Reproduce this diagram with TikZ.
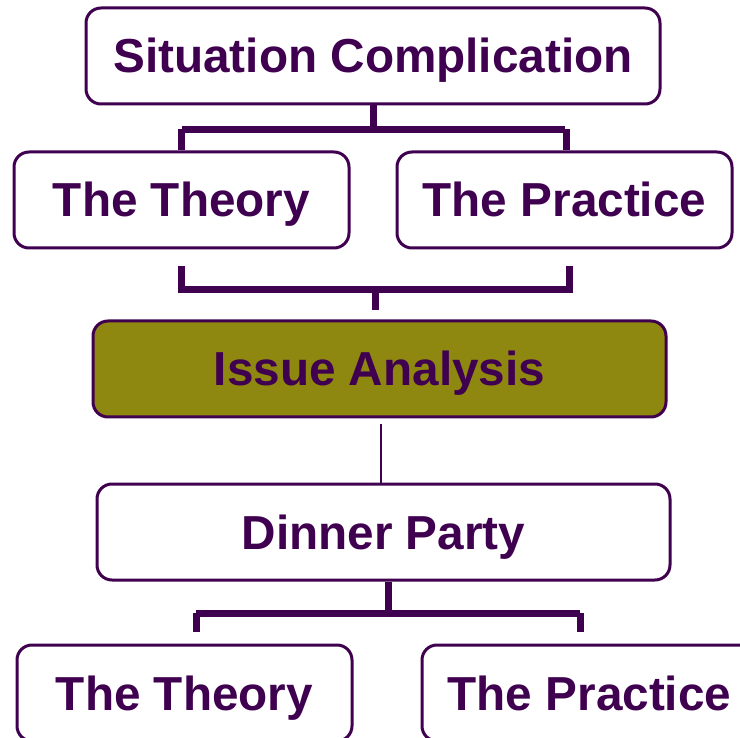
\documentclass[tikz,border=0pt]{standalone}
\usepackage{fontspec}
\setmainfont{Liberation Sans}
\usetikzlibrary{calc}
\definecolor{ink}{HTML}{400050}
\definecolor{olive}{HTML}{8F8810}
\begin{document}
\begin{tikzpicture}[x=1pt,y=1pt,
  box/.style={draw=ink, line width=3pt, rounded corners=15pt, fill=white,
    minimum height=96pt, inner sep=0pt, text=ink, text height=34pt, text depth=0pt,
    font=\fontsize{47.7}{50}\selectfont\bfseries},
  bracket/.style={draw=ink, line width=7pt},
  thin/.style={draw=ink, line width=2pt}]
\useasboundingbox (0,0) rectangle (740,-738);
\clip (0,0) rectangle (740,-738);
\node[box, minimum width=574pt] (sit) at (373,-56) {Situation Complication};
\node[box, minimum width=335pt] (th1) at (181.5,-200) {The Theory};
\node[box, minimum width=335pt] (pr1) at (564.5,-200) {The Practice};
\node[box, minimum width=573pt, fill=olive] (issue) at (379.5,-369) {Issue Analysis};
\node[box, minimum width=573pt] (dinner) at (383.5,-532) {Dinner Party};
\node[box, minimum width=335pt] (th2) at (184.5,-693) {The Theory};
\node[box, minimum width=335pt] (pr2) at (589.5,-693) {The Practice};
% bracket 1
\draw[bracket] (sit.south) -- ++(0,-24) coordinate (b1);
\draw[bracket] (th1.north |- b1) -- (pr1.north |- b1);
\draw[bracket] (th1.north |- b1) -- (th1.north);
\draw[bracket] ([xshift=1.5pt]pr1.north |- b1) -- ([xshift=1.5pt]pr1.north);
% bracket 2
\coordinate (l2) at ($(th1.south)+(0,-17)$);
\coordinate (r2) at ($(pr1.south)+(4.5,-17)$);
\draw[bracket] (l2) -- ++(0,-23) coordinate (l2b) -- (l2b -| r2) -- (r2);
\coordinate (m2) at ($(l2b)!0.5!(l2b -| r2)$);
\draw[bracket] (m2) -- (m2 |- {$(issue.north)+(0,9)$});
% thin line
\draw[thin] ($(issue.south)+(1,-6)$) -- (dinner.north -| {$(issue.south)+(1,0)$});
% bracket 3
\coordinate (s3) at ($(dinner.south)+(4.5,0)$);
\draw[bracket] (s3) -- ++(0,-31) coordinate (b3);
\coordinate (l3) at (196,-613);
\coordinate (r3) at (580,-613);
\draw[bracket] (l3) -- (r3);
\draw[bracket] (l3) -- ++(0,-19);
\draw[bracket] (r3) -- ++(0,-19);
\end{tikzpicture}
\end{document}
